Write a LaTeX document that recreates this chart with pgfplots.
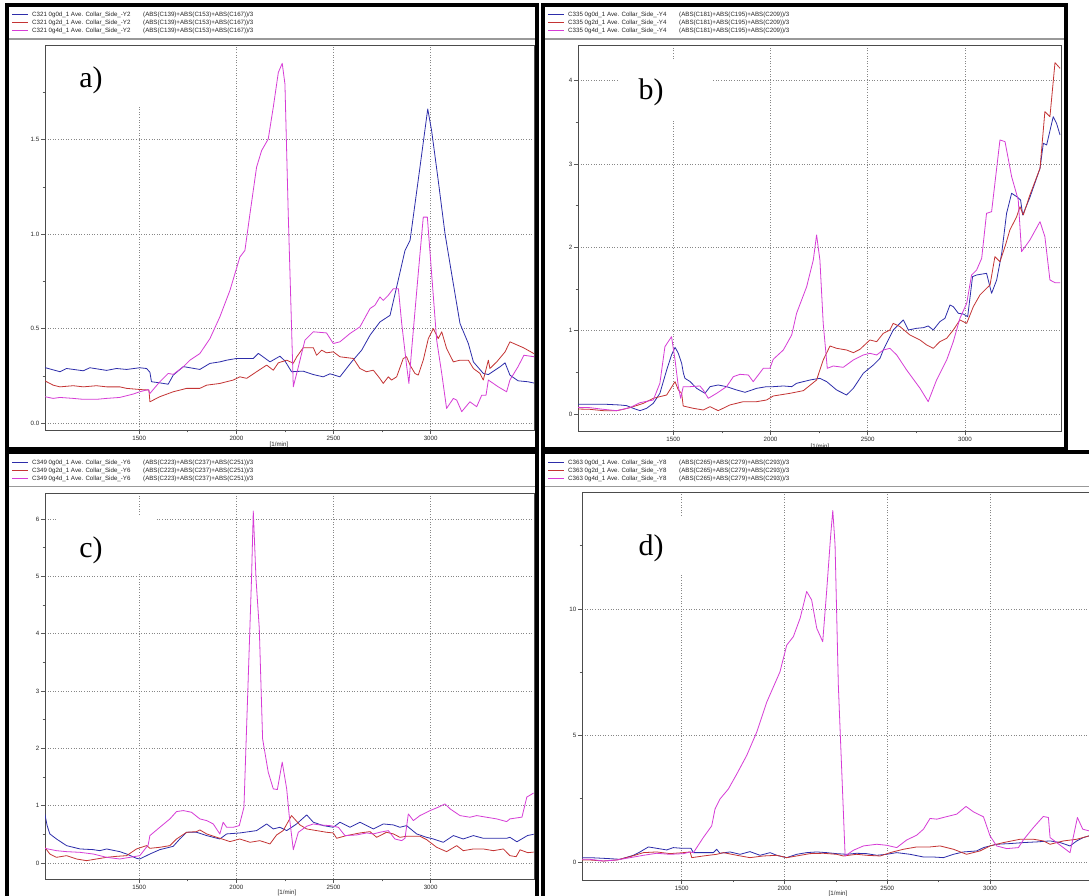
\documentclass[border=0pt]{standalone}
\usepackage{pgfplots}
\pgfplotsset{compat=1.18}
\usepackage{fontspec}
\setmainfont{Liberation Sans}
\newfontfamily\panelfont{Liberation Serif}

\definecolor{sBlue}{RGB}{45,45,170}
\definecolor{sRed}{RGB}{196,52,52}
\definecolor{sMag}{RGB}{214,60,214}
\definecolor{gridgray}{RGB}{135,135,135}

\newcommand\legfont{\fontsize{6.2}{7}\selectfont\color{black!85}}

\pgfplotsset{
  panel/.style={
    scale only axis, anchor=south west,
    axis line style={draw=black!70, line width=0.9bp},
    tick align=outside,
    major tick length=4bp, minor tick length=2.5bp,
    tick style={draw=black!65, line width=0.7bp},
    xtick pos=bottom, ytick pos=left,
    xtick={1500,2000,2500,3000}, xticklabels={1500,2000,2500,3000},
    minor xtick={1750,2250,2750},
    grid=major,
    major grid style={draw=gridgray, line width=0.7bp, dash pattern=on 1bp off 1.6bp},
    minor grid style={draw=none},
    /pgf/number format/assume math mode=true,
    ticklabel style={font=\legfont},
    xticklabel style={inner sep=1.5bp},
    yticklabel style={inner sep=1.5bp},
  },
  sb/.style={sBlue, line width=0.8bp, line join=round},
  sr/.style={sRed, line width=0.8bp, line join=round},
  sm/.style={sMag, line width=0.8bp, line join=round},
}

% three legend rows: sample line, series name, formula
\newcommand\legrows[5]{%
  \foreach \c/\g [count=\i from 0] in {sBlue/0g0d,sRed/0g2d,sMag/0g4d}{
    \draw[\c, line width=0.8bp] (#1,#2-8*\i) -- ++(16,0);
    \node[anchor=west, inner sep=0pt, font=\legfont] at (#1+20,#2-8*\i) {#3 \g\_1 Ave. Collar\_Side\_-#4};
    \node[anchor=west, inner sep=0pt, font=\legfont] at (#1+131,#2-8*\i) {#5};
  }%
}

\begin{document}
\begin{tikzpicture}[x=1bp,y=1bp]
\useasboundingbox (0,0) rectangle (1089,896);
\clip (0,0) rectangle (1089,896);
\fill[white] (0,0) rectangle (1089,896);

% ---------------- a) ----------------
\begin{axis}[panel, at={(45bp,466bp)}, width=489bp, height=385bp,
  xmin=1015, xmax=3532, ymin=-0.035, ymax=2.0,
  ytick={0,0.5,1,1.5}, yticklabels={0.0,0.5,1.0,1.5},
  minor ytick={0.25,0.75,1.25,1.75}]
\addplot[sb] coordinates {(1014,0.295)(1092,0.273)(1126,0.29)(1212,0.278)(1246,0.294)(1332,0.28)(1383,0.29)(1435,0.285)(1503,0.294)(1538,0.29)(1555,0.27)(1563,0.22)(1600,0.215)(1649,0.207)(1675,0.255)(1727,0.30)(1812,0.285)(1864,0.317)(1915,0.325)(1950,0.334)(2001,0.343)(2087,0.343)(2113,0.37)(2173,0.325)(2224,0.355)(2250,0.33)(2284,0.273)(2344,0.276)(2396,0.258)(2447,0.246)(2482,0.262)(2533,0.246)(2593,0.325)(2645,0.387)(2688,0.466)(2739,0.536)(2791,0.571)(2825,0.721)(2868,0.914)(2894,0.967)(2945,1.354)(2985,1.662)(3005,1.547)(3039,1.284)(3074,1.002)(3108,0.791)(3151,0.528)(3194,0.422)(3220,0.325)(3271,0.264)(3297,0.258)(3357,0.299)(3383,0.32)(3408,0.255)(3450,0.225)(3500,0.22)(3547,0.21)};
\addplot[sr] coordinates {(1014,0.225)(1057,0.202)(1092,0.193)(1160,0.199)(1212,0.193)(1280,0.199)(1332,0.193)(1400,0.193)(1435,0.185)(1503,0.179)(1550,0.176)(1555,0.114)(1606,0.141)(1675,0.167)(1744,0.185)(1812,0.185)(1847,0.202)(1915,0.211)(1984,0.229)(2018,0.246)(2053,0.238)(2104,0.273)(2156,0.308)(2190,0.281)(2216,0.32)(2259,0.334)(2293,0.318)(2311,0.352)(2344,0.40)(2396,0.40)(2413,0.36)(2439,0.387)(2464,0.373)(2499,0.378)(2533,0.352)(2602,0.343)(2636,0.29)(2670,0.273)(2705,0.281)(2739,0.237)(2756,0.211)(2782,0.246)(2799,0.229)(2825,0.246)(2859,0.343)(2876,0.352)(2894,0.308)(2919,0.264)(2936,0.255)(2962,0.334)(2988,0.448)(3014,0.501)(3039,0.448)(3057,0.484)(3082,0.396)(3117,0.325)(3151,0.334)(3194,0.334)(3220,0.29)(3254,0.264)(3271,0.229)(3297,0.334)(3305,0.29)(3340,0.325)(3383,0.378)(3408,0.431)(3477,0.40)(3547,0.36)};
\addplot[sm] coordinates {(1014,0.141)(1057,0.132)(1092,0.137)(1160,0.132)(1212,0.127)(1280,0.127)(1332,0.132)(1400,0.137)(1469,0.155)(1503,0.167)(1546,0.179)(1555,0.158)(1606,0.22)(1649,0.264)(1675,0.259)(1727,0.299)(1761,0.334)(1812,0.369)(1864,0.448)(1915,0.563)(1967,0.703)(2018,0.879)(2044,0.914)(2070,1.108)(2104,1.354)(2130,1.442)(2164,1.503)(2190,1.671)(2216,1.855)(2236,1.903)(2250,1.794)(2267,1.108)(2293,0.193)(2319,0.299)(2353,0.44)(2396,0.484)(2464,0.478)(2499,0.422)(2533,0.431)(2585,0.475)(2636,0.51)(2688,0.607)(2713,0.624)(2739,0.668)(2756,0.65)(2782,0.677)(2808,0.712)(2834,0.712)(2851,0.528)(2876,0.308)(2888,0.211)(2902,0.387)(2936,0.791)(2962,1.09)(2983,1.09)(3005,0.791)(3031,0.44)(3057,0.264)(3082,0.079)(3117,0.132)(3134,0.123)(3160,0.062)(3202,0.114)(3237,0.088)(3263,0.149)(3285,0.149)(3297,0.229)(3348,0.193)(3391,0.167)(3408,0.229)(3450,0.30)(3480,0.36)(3547,0.35)};
\end{axis}

% ---------------- b) ----------------
\begin{axis}[panel, at={(578bp,465bp)}, width=483bp, height=386bp,
  xmin=1010, xmax=3494, ymin=-0.204, ymax=4.428,
  ytick={0,1,2,3,4}, yticklabels={0,1,2,3,4},
  minor ytick={0.5,1.5,2.5,3.5}]
\addplot[sb] coordinates {(1005,0.116)(1071,0.116)(1157,0.116)(1226,0.108)(1260,0.10)(1294,0.068)(1329,0.04)(1363,0.068)(1397,0.128)(1431,0.248)(1466,0.528)(1491,0.708)(1509,0.80)(1526,0.728)(1543,0.608)(1552,0.49)(1560,0.428)(1586,0.39)(1620,0.308)(1663,0.248)(1689,0.328)(1731,0.348)(1774,0.328)(1826,0.288)(1869,0.26)(1929,0.308)(1980,0.328)(2014,0.328)(2066,0.336)(2109,0.328)(2134,0.368)(2203,0.408)(2254,0.428)(2289,0.388)(2340,0.288)(2391,0.228)(2426,0.308)(2477,0.488)(2529,0.588)(2563,0.668)(2580,0.768)(2631,1.008)(2683,1.128)(2709,1.008)(2751,1.028)(2786,1.036)(2811,1.056)(2837,1.008)(2871,1.108)(2897,1.148)(2923,1.308)(2940,1.288)(2966,1.208)(2991,1.20)(3014,1.168)(3039,1.648)(3060,1.668)(3111,1.688)(3137,1.448)(3163,1.608)(3189,1.928)(3214,2.408)(3240,2.648)(3266,2.608)(3286,2.568)(3297,2.388)(3334,2.60)(3386,2.948)(3403,3.248)(3420,3.228)(3454,3.568)(3471,3.488)(3489,3.348)};
\addplot[sr] coordinates {(1005,0.06)(1071,0.056)(1140,0.04)(1209,0.04)(1243,0.056)(1294,0.088)(1346,0.128)(1397,0.188)(1466,0.228)(1509,0.388)(1526,0.288)(1543,0.248)(1551,0.096)(1603,0.068)(1654,0.048)(1689,0.088)(1731,0.04)(1791,0.108)(1860,0.148)(1929,0.148)(1980,0.168)(2014,0.216)(2100,0.248)(2169,0.28)(2237,0.408)(2271,0.648)(2306,0.816)(2340,0.788)(2391,0.768)(2426,0.736)(2460,0.776)(2511,0.888)(2546,0.868)(2580,0.968)(2614,1.008)(2631,1.088)(2666,1.048)(2717,0.948)(2769,0.888)(2803,0.828)(2837,0.788)(2871,0.868)(2906,0.908)(2940,1.008)(2974,1.128)(3009,1.088)(3043,1.288)(3077,1.428)(3111,1.508)(3129,1.548)(3154,1.888)(3180,1.828)(3206,2.008)(3231,2.208)(3266,2.368)(3283,2.488)(3300,2.388)(3334,2.628)(3386,2.948)(3411,3.628)(3437,3.568)(3463,4.216)(3489,4.148)};
\addplot[sm] coordinates {(1005,0.08)(1071,0.076)(1140,0.056)(1209,0.04)(1277,0.076)(1329,0.136)(1397,0.168)(1431,0.368)(1457,0.808)(1491,0.928)(1509,0.648)(1526,0.328)(1538,0.188)(1551,0.328)(1586,0.328)(1637,0.336)(1654,0.288)(1680,0.188)(1723,0.248)(1774,0.328)(1809,0.448)(1843,0.476)(1886,0.468)(1911,0.388)(1963,0.548)(1997,0.548)(2014,0.656)(2066,0.768)(2109,0.948)(2134,1.208)(2186,1.528)(2220,1.848)(2237,2.148)(2254,1.848)(2271,1.088)(2292,0.548)(2323,0.576)(2374,0.56)(2426,0.648)(2477,0.708)(2511,0.728)(2546,0.708)(2580,0.768)(2614,0.788)(2649,0.708)(2700,0.528)(2769,0.308)(2811,0.148)(2854,0.408)(2906,0.648)(2940,0.868)(2974,1.148)(3009,1.328)(3034,1.668)(3060,1.728)(3086,1.868)(3111,2.408)(3137,2.428)(3180,3.288)(3206,3.268)(3240,2.848)(3274,2.568)(3291,1.948)(3334,2.088)(3386,2.308)(3411,2.128)(3437,1.608)(3463,1.576)(3489,1.576)};
\end{axis}

% ---------------- c) ----------------
\begin{axis}[panel, at={(45bp,17bp)}, width=489bp, height=386bp,
  xmin=1015, xmax=3532, ymin=-0.279, ymax=6.453,
  ytick={0,1,2,3,4,5,6}, yticklabels={0,1,2,3,4,5,6},
  minor ytick={0.5,1.5,2.5,3.5,4.5,5.5}]
\addplot[sb] coordinates {(1014,0.856)(1026,0.652)(1040,0.507)(1074,0.419)(1126,0.303)(1195,0.245)(1263,0.233)(1297,0.215)(1332,0.245)(1400,0.198)(1435,0.157)(1486,0.082)(1503,0.07)(1555,0.157)(1606,0.233)(1675,0.291)(1709,0.419)(1744,0.536)(1795,0.536)(1847,0.478)(1915,0.419)(1950,0.507)(2018,0.524)(2104,0.565)(2156,0.681)(2190,0.594)(2224,0.623)(2259,0.565)(2310,0.681)(2362,0.839)(2396,0.711)(2447,0.652)(2499,0.623)(2533,0.711)(2585,0.623)(2636,0.711)(2705,0.594)(2756,0.681)(2808,0.664)(2842,0.623)(2876,0.652)(2928,0.507)(2979,0.448)(3014,0.419)(3065,0.361)(3117,0.478)(3168,0.419)(3220,0.478)(3271,0.431)(3323,0.431)(3391,0.431)(3408,0.448)(3444,0.37)(3499,0.48)(3530,0.50)};
\addplot[sr] coordinates {(1014,0.274)(1040,0.157)(1074,0.099)(1126,0.128)(1177,0.07)(1229,0.041)(1280,0.07)(1332,0.099)(1383,0.116)(1435,0.128)(1486,0.245)(1538,0.303)(1555,0.256)(1606,0.274)(1658,0.303)(1692,0.419)(1744,0.536)(1795,0.547)(1812,0.577)(1847,0.507)(1915,0.431)(1967,0.373)(2018,0.419)(2070,0.361)(2121,0.39)(2173,0.332)(2207,0.489)(2241,0.565)(2284,0.827)(2327,0.664)(2362,0.594)(2413,0.565)(2464,0.536)(2499,0.524)(2516,0.431)(2567,0.478)(2636,0.524)(2688,0.547)(2722,0.448)(2773,0.536)(2808,0.507)(2842,0.448)(2876,0.466)(2945,0.466)(2979,0.408)(3031,0.274)(3082,0.198)(3134,0.303)(3168,0.215)(3220,0.245)(3271,0.245)(3323,0.215)(3374,0.245)(3408,0.128)(3440,0.11)(3460,0.23)(3500,0.18)(3530,0.19)};
\addplot[sm] coordinates {(1014,0.256)(1074,0.215)(1126,0.198)(1195,0.186)(1263,0.157)(1332,0.099)(1400,0.07)(1452,0.099)(1503,0.128)(1546,0.314)(1555,0.478)(1606,0.623)(1658,0.769)(1692,0.897)(1727,0.914)(1769,0.885)(1812,0.769)(1847,0.74)(1881,0.681)(1915,0.507)(1932,0.711)(1950,0.623)(1984,0.623)(2015,0.652)(2039,0.973)(2061,3.215)(2078,4.962)(2087,6.139)(2101,4.962)(2118,4.088)(2135,2.167)(2164,1.584)(2190,1.293)(2211,1.281)(2236,1.759)(2259,1.293)(2272,0.827)(2293,0.233)(2319,0.536)(2362,0.641)(2396,0.681)(2430,0.664)(2482,0.652)(2525,0.623)(2559,0.478)(2619,0.489)(2670,0.524)(2705,0.507)(2739,0.536)(2782,0.565)(2816,0.419)(2851,0.39)(2868,0.431)(2885,0.856)(2911,0.74)(2945,0.827)(2997,0.914)(3039,0.973)(3074,1.031)(3100,0.944)(3151,0.827)(3202,0.798)(3237,0.827)(3288,0.798)(3340,0.769)(3391,0.722)(3408,0.769)(3470,0.80)(3495,1.15)(3530,1.22)};
\end{axis}

% ---------------- d) ----------------
\begin{axis}[panel, at={(582bp,16bp)}, width=518bp, height=388bp,
  xmin=1015, xmax=3535, ymin=-0.711, ymax=14.62,
  ytick={0,5,10}, yticklabels={0,5,10},
  minor ytick={2.5,7.5,12.5}]
\addplot[sb] coordinates {(1013,0.17)(1054,0.172)(1151,0.132)(1200,0.106)(1265,0.265)(1297,0.397)(1338,0.595)(1378,0.542)(1427,0.476)(1459,0.569)(1500,0.542)(1545,0.54)(1557,0.37)(1605,0.37)(1654,0.37)(1670,0.503)(1686,0.344)(1735,0.397)(1784,0.304)(1832,0.41)(1881,0.265)(1930,0.37)(1962,0.265)(2011,0.172)(2059,0.304)(2108,0.37)(2157,0.397)(2205,0.37)(2254,0.33)(2303,0.304)(2351,0.344)(2400,0.33)(2449,0.265)(2497,0.304)(2546,0.37)(2611,0.304)(2676,0.198)(2724,0.198)(2773,0.172)(2822,0.304)(2870,0.397)(2935,0.437)(2968,0.569)(3032,0.701)(3097,0.728)(3162,0.767)(3227,0.794)(3292,0.833)(3341,0.767)(3389,0.635)(3422,0.833)(3454,0.966)(3482,1.032)(3536,1.10)};
\addplot[sr] coordinates {(1013,0.08)(1054,0.079)(1119,0.04)(1184,0.079)(1249,0.212)(1314,0.37)(1378,0.397)(1443,0.331)(1508,0.37)(1541,0.397)(1549,0.172)(1605,0.238)(1670,0.304)(1703,0.37)(1768,0.265)(1832,0.172)(1897,0.238)(1962,0.265)(2011,0.172)(2059,0.238)(2124,0.331)(2189,0.344)(2254,0.304)(2286,0.238)(2351,0.304)(2400,0.265)(2465,0.238)(2514,0.37)(2578,0.503)(2643,0.595)(2708,0.595)(2757,0.635)(2822,0.503)(2886,0.304)(2951,0.437)(3000,0.635)(3065,0.767)(3146,0.899)(3211,0.899)(3259,0.833)(3292,0.701)(3357,0.833)(3422,0.899)(3482,1.032)(3536,1.10)};
\addplot[sm] coordinates {(1013,0.11)(1054,0.106)(1119,0.04)(1184,0.08)(1249,0.172)(1314,0.265)(1378,0.344)(1443,0.304)(1508,0.33)(1541,0.397)(1557,0.37)(1605,0.966)(1646,1.429)(1662,2.09)(1686,2.487)(1727,2.884)(1768,3.479)(1816,4.206)(1865,5.132)(1914,6.323)(1946,6.918)(1978,7.513)(2011,8.571)(2043,8.902)(2076,9.63)(2108,10.688)(2132,10.357)(2157,9.233)(2186,8.704)(2205,10.688)(2225,12.937)(2235,13.889)(2246,12.54)(2262,6.984)(2295,0.238)(2335,0.463)(2384,0.635)(2449,0.701)(2497,0.661)(2546,0.569)(2595,0.873)(2643,1.058)(2676,1.296)(2708,1.72)(2741,1.693)(2773,1.759)(2805,1.825)(2838,1.892)(2883,2.196)(2919,1.984)(2968,1.786)(3000,1.032)(3032,0.635)(3081,0.529)(3138,0.569)(3162,0.873)(3211,1.362)(3259,1.799)(3284,1.759)(3292,0.966)(3324,0.767)(3389,0.37)(3425,1.759)(3451,1.296)(3482,1.23)(3536,1.23)};
\end{axis}

% panel letters on white boxes
\fill[white] (58,789) rectangle (155,849);
\node[font=\panelfont\fontsize{30}{30}\selectfont] at (91,816) {a)};
\fill[white] (618,776) rectangle (713,836);
\node[font=\panelfont\fontsize{30}{30}\selectfont] at (651,804) {b)};
\fill[white] (58,324) rectangle (155,379);
\node[font=\panelfont\fontsize{30}{30}\selectfont] at (91,346) {c)};
\fill[white] (618,321) rectangle (713,378);
\node[font=\panelfont\fontsize{30}{30}\selectfont] at (651,348) {d)};

% x axis titles
\node[font=\legfont] at (279,451) {[1/min]};
\node[font=\legfont] at (820,449) {[1/min]};
\node[font=\legfont] at (287,3) {[1/min]};
\node[font=\legfont] at (838,2) {[1/min]};

% legend blocks
\legrows{12}{881.3}{C321}{Y2}{(ABS(C139)+ABS(C153)+ABS(C167))/3}
\legrows{548}{881.3}{C335}{Y4}{(ABS(C181)+ABS(C195)+ABS(C209))/3}
\legrows{12}{433.3}{C349}{Y6}{(ABS(C223)+ABS(C237)+ABS(C251))/3}
\legrows{548}{433.3}{C363}{Y8}{(ABS(C265)+ABS(C279)+ABS(C293))/3}

% separators under the legends
\draw[black!40, line width=1.2bp] (9,857) -- (534.5,857);
\draw[black!40, line width=1.2bp] (545,857) -- (1063.5,857);
\draw[black!40, line width=1.2bp] (9,409.6) -- (534.5,409.6);
\draw[black!40, line width=1.2bp] (545,409.6) -- (1089,409.6);

% window frames
\draw[black, line width=4bp] (7,446.5) rectangle (536.5,890.5);
\draw[black, line width=4bp] (543,446.5) rectangle (1065.5,890.5);
\draw[black, line width=4bp] (7,-10) rectangle (536.5,444);
\draw[black, line width=4bp] (543,-10) rectangle (1110,444);
\end{tikzpicture}
\end{document}
